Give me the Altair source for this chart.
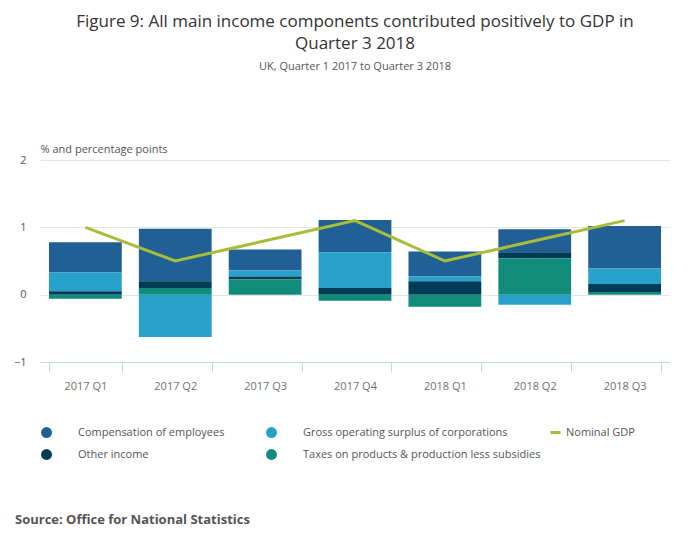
import altair as alt
import pandas as pd

quarters = ['2017 Q1', '2017 Q2', '2017 Q3', '2017 Q4', '2018 Q1', '2018 Q2', '2018 Q3']
compensation = [0.45, 0.78, 0.31, 0.48, 0.37, 0.34, 0.63]
gross_operating = [0.28, -0.63, 0.09, 0.53, 0.07, -0.15, 0.23]
other_income = [0.05, 0.10, 0.04, 0.10, 0.20, 0.09, 0.12]
taxes = [-0.06, 0.10, 0.23, -0.09, -0.18, 0.54, 0.04]
nominal_gdp = [1.0, 0.5, 0.8, 1.1, 0.5, 0.8, 1.1]

series = ['Compensation of employees', 'Gross operating surplus of corporations',
          'Other income', 'Taxes on products & production less subsidies']
colors = ['#206095', '#27a0cc', '#003c57', '#118c7b']
stack_rank = {series[3]: 0, series[2]: 1, series[1]: 2, series[0]: 3}

rows = []
for name, vals in zip(series, [compensation, gross_operating, other_income, taxes]):
    for q, v in zip(quarters, vals):
        rows.append({'Quarter': q, 'Component': name, 'Value': v, 'rank': stack_rank[name]})
bars_df = pd.DataFrame(rows)
gdp_df = pd.DataFrame({'Quarter': quarters, 'GDP': nominal_gdp, 'Series': 'Nominal GDP'})

font = 'Open Sans'

x = alt.X('Quarter:N', title=None, sort=quarters,
          scale=alt.Scale(paddingInner=0.19, paddingOuter=0.1),
          axis=alt.Axis(labelAngle=0, labelColor='#707070', labelFontSize=11, labelPadding=8,
                        domainColor='#c6d4e6', tickColor='#c6d4e6', tickBand='extent',
                        tickSize=10))

bars = alt.Chart(bars_df).mark_bar().encode(
    x=x,
    y=alt.Y('Value:Q', stack='zero', scale=alt.Scale(domain=[-1, 2]),
            axis=alt.Axis(values=[-1, 0, 1, 2], format='d', title='% and percentage points',
                          titleAngle=0, titleAlign='left', titleX=0, titleY=-6,
                          titleFontWeight='normal', titleColor='#555', titleFontSize=11,
                          labelColor='#555', labelFontSize=11, domain=False, ticks=False,
                          gridColor='#e5e5e5', labelPadding=14)),
    color=alt.Color('Component:N', scale=alt.Scale(domain=series, range=colors),
                    legend=alt.Legend(title=None, orient='bottom', columns=2, symbolType='circle',
                                      symbolSize=120, labelFontSize=11, labelColor='#555',
                                      columnPadding=40, rowPadding=10, labelOffset=25,
                                      labelLimit=300, offset=35, padding=0)),
    order=alt.Order('rank:Q')
)

line = alt.Chart(gdp_df).mark_line(strokeWidth=3).encode(
    x=alt.X('Quarter:N', sort=quarters),
    y='GDP:Q',
    stroke=alt.Stroke('Series:N', scale=alt.Scale(range=['#a8bd3a']),
                      legend=alt.Legend(title=None, orient='bottom', symbolType='stroke',
                                        symbolStrokeWidth=3, labelFontSize=11, labelColor='#555'))
)

main = alt.layer(bars, line).resolve_legend(color='independent', stroke='independent').properties(
    width=630, height=202,
    title=alt.TitleParams(['Figure 9: All main income components contributed positively to GDP in',
                           'Quarter 3 2018'],
                          subtitle='UK, Quarter 1 2017 to Quarter 3 2018', fontSize=17,
                          fontWeight='normal', color='#333', subtitleColor='#555',
                          subtitleFontSize=11, lineHeight=22, offset=70,
                          anchor='middle', subtitlePadding=8)
)

source = alt.Chart(pd.DataFrame({'t': ['Source: Office for National Statistics']})).mark_text(
    align='left', fontSize=13, fontWeight='bold', color='#555', font=font
).encode(x=alt.value(-25), y=alt.value(10), text='t:N').properties(width=630, height=20)

chart = alt.vconcat(main, source, spacing=50).configure(font=font).configure_view(strokeWidth=0)

chart.save("out.html", embed_options={"renderer": "svg", "actions": False})
